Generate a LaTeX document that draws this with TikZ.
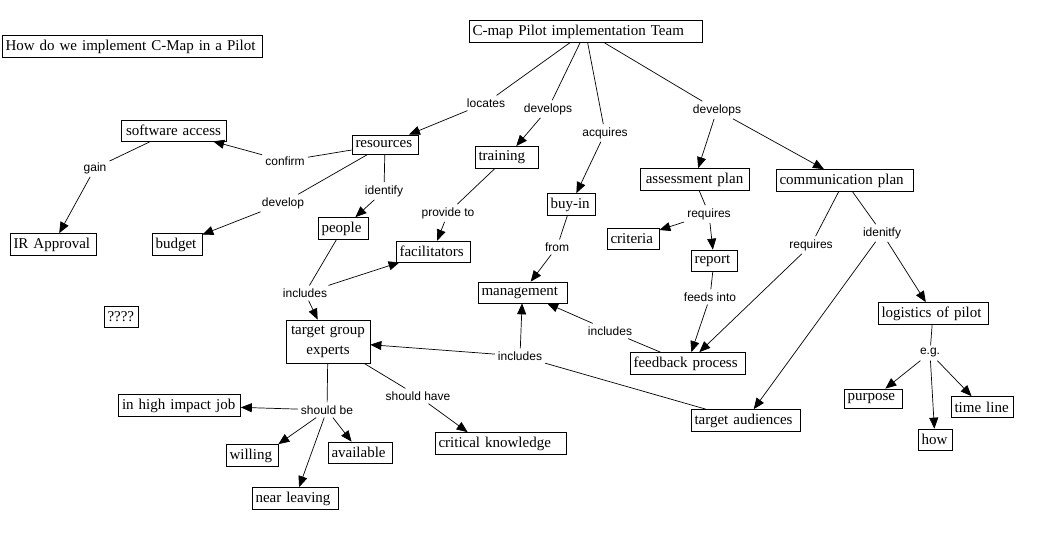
\documentclass[tikz,border=0pt]{standalone}
\usepackage{fontspec}
\setmainfont{Liberation Serif}
\setsansfont{Liberation Sans}
\usetikzlibrary{arrows.meta}
\begin{document}
\begin{tikzpicture}[
  x=1pt, y=-1pt,
  c/.style={draw, line width=0.7pt, text width=#1-7pt, align=left, minimum height=22pt, inner xsep=3.5pt, inner ysep=2pt, font=\fontsize{15}{17}\selectfont},
  c/.default=40pt,
  l/.style={inner sep=3pt, font=\sffamily\fontsize{12}{14}\selectfont},
  e/.style={line width=0.7pt},
  a/.style={e, -{Triangle[length=11pt,width=9pt]}}
]
\useasboundingbox (0,0) rectangle (1060,551);

% Concepts
\node[c=260pt] (title) at (132,46.5) {How do we implement C-Map in a Pilot};
\node[c=233pt] (team) at (585.5,31.5) {C-map Pilot implementation Team};
\node[c=105pt, minimum height=21pt, align=center] (soft) at (173.5,130.5) {software access};
\node[c=66pt, minimum height=19pt] (res) at (385,144.5) {resources};
\node[c=63pt] (train) at (506.5,157.5) {training};
\node[c=48pt] (buyin) at (571,204.5) {buy-in};
\node[c=109pt, align=center] (assess) at (694.5,179.5) {assessment plan};
\node[c=137pt] (comm) at (844.5,180.5) {communication plan};
\node[c=86pt] (ir) at (53,244.5) {IR Approval};
\node[c=50pt] (budget) at (177,244.5) {budget};
\node[c=50pt] (people) at (343,228.5) {people};
\node[c=74pt, minimum height=21pt] (facil) at (433,251.5) {facilitators};
\node[c=52pt, minimum height=21pt] (crit) at (633,238.5) {criteria};
\node[c=46pt, minimum height=21pt] (report) at (714,260.5) {report};
\node[c=89pt, minimum height=21pt] (mgmt) at (522.5,292.5) {management};
\node[c=34pt, minimum height=21pt] (q) at (121,316.5) {????};
\node[c=84pt, minimum height=43pt, align=center, font=\fontsize{15}{20}\selectfont] (tge) at (328,341.5) {target group\\experts};
\node[c=110pt] (logist) at (933,313.5) {logistics of pilot};
\node[c=115pt] (feed) at (687.5,363.5) {feedback process};
\node[c=109pt] (aud) at (745.5,420.5) {target audiences};
\node[c=58pt, minimum height=19pt] (purpose) at (873,398.5) {purpose};
\node[c=62pt, minimum height=21pt] (tline) at (982,407) {time line};
\node[c=34pt, minimum height=21pt] (how) at (935,439.5) {how};
\node[c=122pt] (hij) at (179.5,405.5) {in high impact job};
\node[c=131pt] (crk) at (500.5,443.5) {critical knowledge};
\node[c=52pt] (willing) at (252,455.5) {willing};
\node[c=64pt, minimum height=21pt] (avail) at (360,452.5) {available};
\node[c=86pt] (near) at (295,498.5) {near leaving};

% Linking phrases
\node[l] (locates) at (486,103) {locates};
\node[l] (dev1) at (548,109) {develops};
\node[l] (acq) at (605,133) {acquires};
\node[l] (dev2) at (717,110) {develops};
\node[l] (confirm) at (285,161) {confirm};
\node[l] (gain) at (95,168) {gain};
\node[l] (devel) at (283,203) {develop};
\node[l] (ident) at (384,191) {identify};
\node[l] (prov) at (448,213) {provide to};
\node[l] (from) at (557,247) {from};
\node[l] (req1) at (709,214) {requires};
\node[l] (req2) at (811,245) {requires};
\node[l] (idy) at (882,233) {idenitfy};
\node[l] (feeds) at (710,297) {feeds into};
\node[l] (inc1) at (305,293) {includes};
\node[l] (inc2) at (610,331) {includes};
\node[l] (inc3) at (520,356) {includes};
\node[l] (shbe) at (327,410) {should be};
\node[l] (shhave) at (418,396) {should have};
\node[l] (eg) at (930,353) {e.g.};

% Team
\draw[e] (team) -- (locates);
\draw[a] (locates) -- (res);
\draw[e] (team) -- (dev1);
\draw[a] (dev1) -- (train);
\draw[e] (team) -- (acq);
\draw[a] (acq) -- (buyin);
\draw[e] (team) -- (dev2);
\draw[a] (dev2) -- (assess);
\draw[a] (dev2) -- (comm);

% Resources
\draw[e] (res) -- (confirm);
\draw[a] (confirm) -- (soft);
\draw[e] (soft) -- (gain);
\draw[a] (gain) -- (ir);
\draw[e] (res) -- (devel);
\draw[a] (devel) -- (budget);
\draw[e] (res) -- (ident);
\draw[a] (ident) -- (people);
\draw[e] (people) -- (inc1);
\draw[a] (inc1) -- (facil);
\draw[a] (inc1) -- (tge);
\draw[e] (train) -- (prov);
\draw[a] (prov) -- (facil);
\draw[e] (buyin) -- (from);
\draw[a] (from) -- (mgmt);

% Plans
\draw[e] (assess) -- (req1);
\draw[a] (req1) -- (crit);
\draw[a] (req1) -- (report);
\draw[e] (report) -- (feeds);
\draw[a] (feeds) -- (feed);
\draw[e] (comm) -- (req2);
\draw[a] (req2) -- (feed);
\draw[e] (comm) -- (idy);
\draw[a] (idy) -- (aud);
\draw[a] (idy) -- (logist);
\draw[e] (feed) -- (inc2);
\draw[a] (inc2) -- (mgmt);
\draw[e] (aud) -- (inc3);
\draw[a] (inc3) -- (mgmt);
\draw[a] (inc3) -- (tge);
\draw[e] (logist) -- (eg);
\draw[a] (eg) -- (purpose);
\draw[a] (eg) -- (how);
\draw[a] (eg) -- (tline);

% Experts
\draw[e] (tge) -- (shbe);
\draw[a] (shbe) -- (hij);
\draw[a] (shbe) -- (willing.north east);
\draw[a] (shbe) -- (near);
\draw[a] (shbe) -- (avail);
\draw[e] (tge) -- (shhave);
\draw[a] (shhave) -- ([xshift=33pt]crk.north west);
\end{tikzpicture}
\end{document}
